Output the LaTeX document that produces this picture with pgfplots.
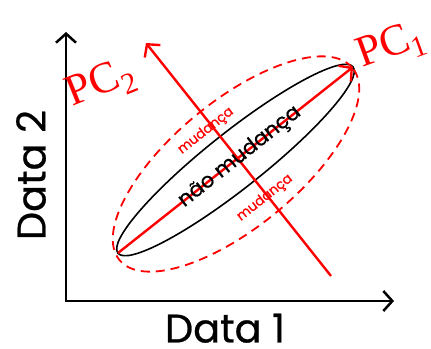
\documentclass[border=0pt]{standalone}
\usepackage{fontspec}
\setmainfont[FakeBold=0.6]{Poppins}
\newfontfamily\pcfont{Liberation Serif}
\usepackage{pgfplots}
\pgfplotsset{compat=1.18}
\usetikzlibrary{arrows.meta}
\begin{document}
\begin{tikzpicture}
\begin{axis}[x=1bp,y=1bp,xmin=0,xmax=431,ymin=0,ymax=349,hide axis,clip=false]
\coordinate (ll) at (axis cs:0,0);
\coordinate (ur) at (axis cs:431,349);
% axes of the diagram
\addplot[black,line width=2.5bp,-{Straight Barb[length=9bp,width=20bp,line width=2.5bp]}] coordinates {(66,47) (66,317)};
\addplot[black,line width=2.5bp,-{Straight Barb[length=9bp,width=20bp,line width=2.5bp]}] coordinates {(65,48) (394,48)};
% ellipses
\draw[black,line width=1.6bp,rotate around={38.4:(axis cs:235.5,189)}] (axis cs:235.5,189) ellipse [x radius=150, y radius=28];
\draw[red,line width=1.8bp,dash pattern=on 9bp off 6bp,rotate around={39.5:(axis cs:236,185)}] (axis cs:236,185) ellipse [x radius=151, y radius=63];
% principal components
\addplot[red,line width=2.4bp,-{Straight Barb[length=9bp,width=20bp,line width=2.4bp]}] coordinates {(118,96) (353,282)};
\addplot[red,line width=2.4bp,-{Straight Barb[length=9bp,width=20bp,line width=2.4bp]}] coordinates {(331,73) (146,306)};
% texts
\node[rotate=38.4,font=\fontsize{21}{24}\selectfont] at (axis cs:240,192) {não mudança};
\node[red,rotate=38.4,font=\fontsize{13.5}{15}\selectfont] at (axis cs:206,218) {mudança};
\node[red,rotate=38.4,font=\fontsize{13.5}{15}\selectfont] at (axis cs:265,151) {mudança};
\node[red,rotate=20,font=\pcfont\fontsize{44}{50}\selectfont,inner sep=0pt] at (axis cs:391,302) {PC\raisebox{-0.22em}{\fontsize{30}{30}\selectfont 1}};
\node[red,rotate=22,font=\pcfont\fontsize{44}{50}\selectfont,inner sep=0pt] at (axis cs:101,264) {PC\raisebox{-0.22em}{\fontsize{30}{30}\selectfont 2}};
\node[font=\fontsize{40}{44}\selectfont,inner sep=0pt,text height=29pt,text depth=0pt] at (axis cs:225,21) {Data 1};
\node[rotate=90,font=\fontsize{40}{44}\selectfont,inner sep=0pt] at (axis cs:31,174) {Data 2};
\end{axis}
\pgfresetboundingbox
\useasboundingbox (ll) rectangle (ur);
\end{tikzpicture}
\end{document}
